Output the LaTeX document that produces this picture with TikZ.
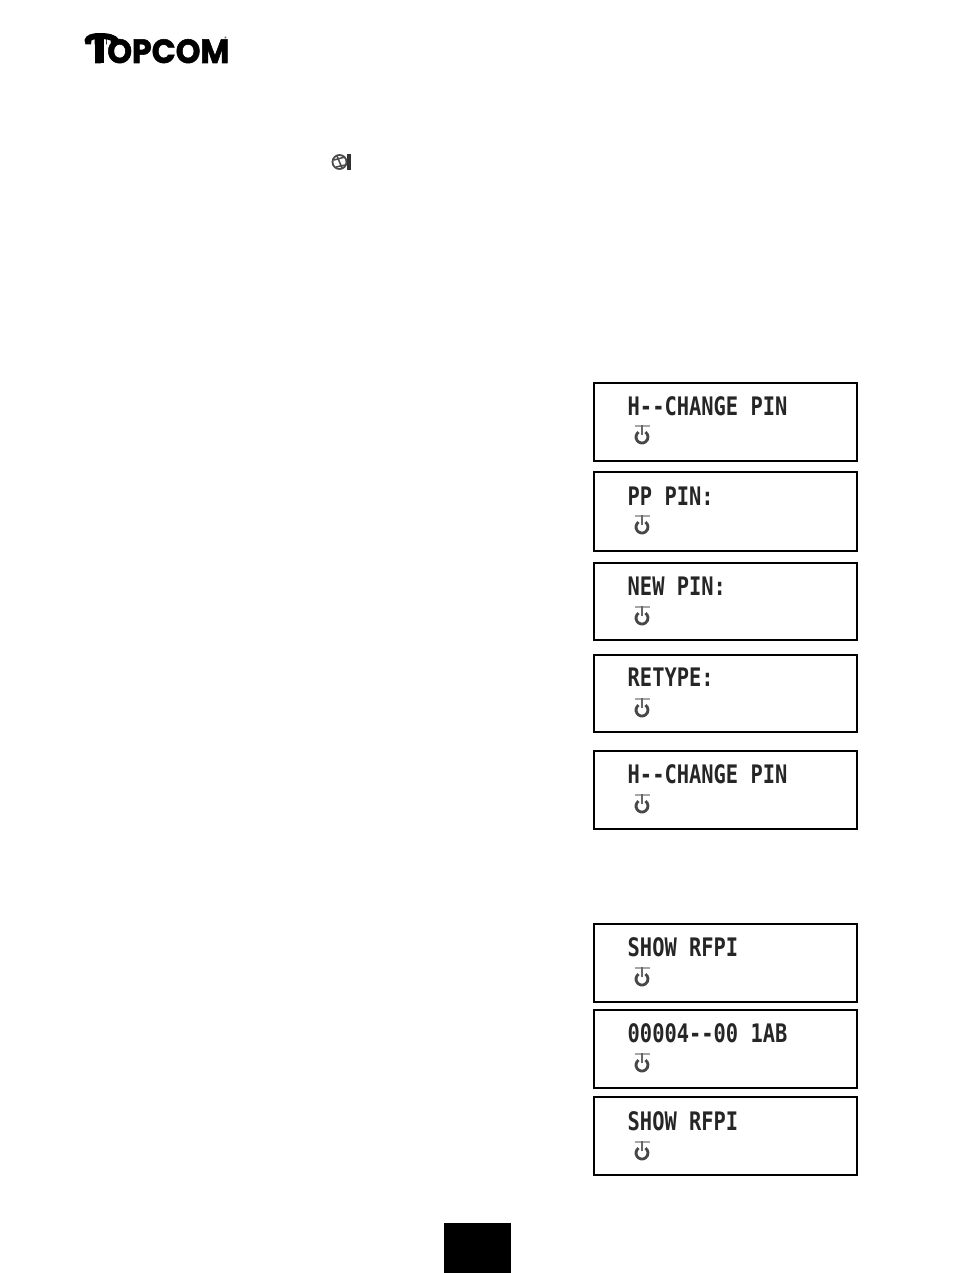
\documentclass[tikz,border=0pt]{standalone}
\usepackage{fontspec}
\newfontfamily\lcdfont[FakeStretch=0.80]{DejaVu Sans Mono}
\newfontfamily\logofont[FakeStretch=0.94,BoldFeatures={FakeBold=1.6}]{Poppins}
\tikzset{
  lcdbox/.style={draw=black,line width=2pt,fill=white,minimum width=263.5pt,inner sep=0pt,anchor=north west},
  lcdtext/.style={anchor=base west,inner sep=0pt,font=\lcdfont\bfseries\fontsize{25.5pt}{26pt}\selectfont,text=black!85},
  pwr/.style={draw=black!72}
}
\newcommand{\pwricon}[2]{%
  \draw[pwr,line width=2.6pt,draw=black!35] (#1-7.5,#2+1.8) -- (#1+7.5,#2+1.8);
  \draw[pwr,line width=2.4pt,draw=black!60] (#1,#2+1) -- (#1,#2+11);
  \draw[pwr,line width=2.8pt] (#1-3.44,#2+8.1) arc[start angle=-125,end angle=-415,radius=6];
}
\begin{document}
\begin{tikzpicture}[x=1pt,y=-1pt]
\path[use as bounding box,fill=white] (0,0) rectangle (954,1273);
% logo
\node[anchor=base west,inner sep=0pt,font=\logofont\bfseries\fontsize{33.5pt}{33pt}\selectfont] (logo) at (88.5,63) {TOPCOM};
\fill[white] (84,36) rectangle (94.5,50) (103.5,36) rectangle (106,50);
\fill[black] (84.5,40) .. controls (86,34.5) and (92,33) .. (100,33) .. controls (108,33) and (116,34.5) .. (118.5,39)
  -- (117.5,43) -- (111,43) -- (110.5,40.5) .. controls (106,38.5) and (94,38.5) .. (91.5,40.5) -- (91,44.5) -- (85.5,44.5) -- cycle;
\fill[black] (94.5,38) rectangle (103.5,63);
\node[inner sep=0pt,font=\logofont\fontsize{5pt}{5pt}\selectfont] (reg) at (225.5,39) {®};
% small symbol
\draw[black!70,line width=1.8pt] (339.5,162) circle[radius=7];
\draw[black!70,line width=1.5pt] (334,160) -- (345,157) (337,156) -- (342,168) (345,165) -- (336,167);
\fill[black!80] (346.5,154.5) rectangle (350.5,170);
% displays
\node[lcdbox,minimum height=78pt] (d1) at (592.5,381.7) {};
\node[lcdbox,minimum height=79pt] (d2) at (592.5,471) {};
\node[lcdbox,minimum height=77pt] (d3) at (592.5,562) {};
\node[lcdbox,minimum height=77pt] (d4) at (592.5,654) {};
\node[lcdbox,minimum height=78pt] (d5) at (592.5,750) {};
\node[lcdbox,minimum height=78pt] (d6) at (592.5,923) {};
\node[lcdbox,minimum height=78pt] (d7) at (592.5,1009) {};
\node[lcdbox,minimum height=78pt] (d8) at (592.5,1096) {};
\node[lcdtext] (t1) at (627.5,415) {H--CHANGE PIN};
\node[lcdtext] (t2) at (627.5,505) {PP PIN:};
\node[lcdtext] (t3) at (627.5,595) {NEW PIN:};
\node[lcdtext] (t4) at (627.5,686) {RETYPE:};
\node[lcdtext] (t5) at (627.5,783) {H--CHANGE PIN};
\node[lcdtext] (t6) at (627.5,956) {SHOW RFPI};
\node[lcdtext] (t7) at (627.5,1042) {00004--00 1AB};
\node[lcdtext] (t8) at (627.5,1130) {SHOW RFPI};
\pwricon{642}{424}
\pwricon{642}{514}
\pwricon{642}{605}
\pwricon{642}{697}
\pwricon{642}{793}
\pwricon{642}{966}
\pwricon{642}{1052}
\pwricon{642}{1140}
% page tab
\node[fill=black,inner sep=0pt,outer sep=0pt,minimum width=67pt,minimum height=50pt,anchor=north west] (tab) at (444,1223) {};
\end{tikzpicture}
\end{document}
